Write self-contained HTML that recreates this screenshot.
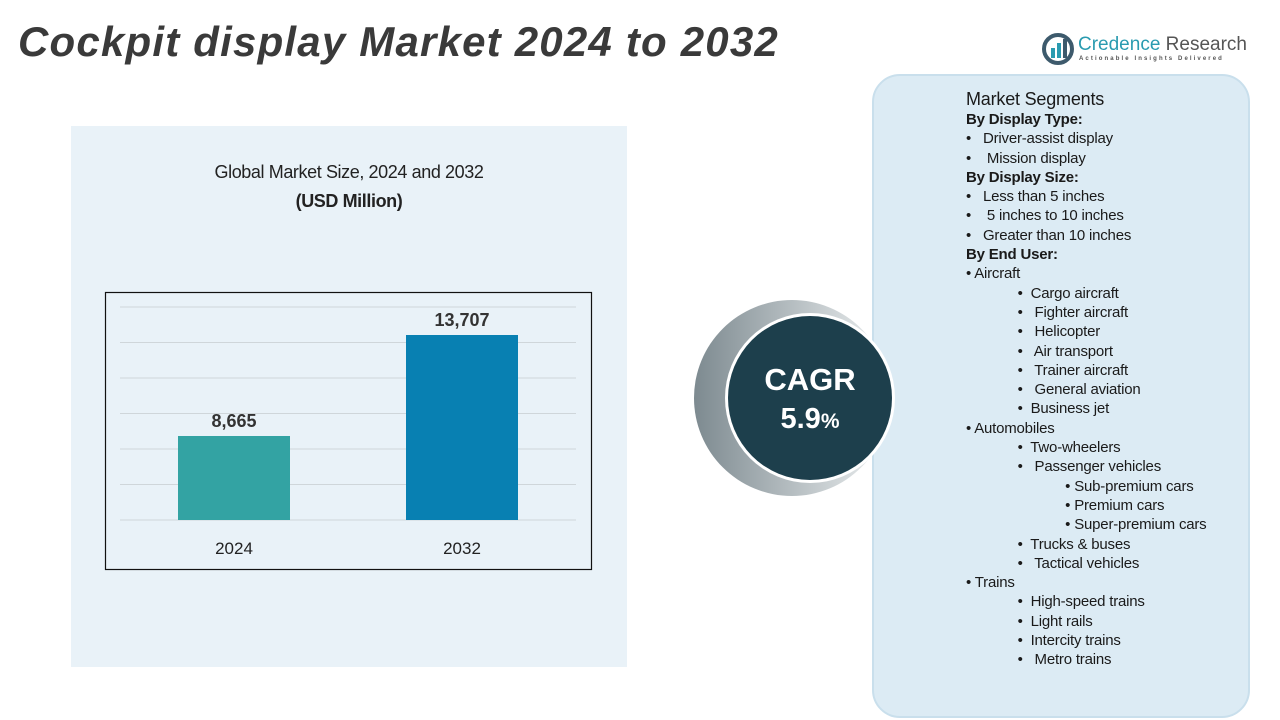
<!DOCTYPE html>
<html><head><meta charset="utf-8"><style>
body{margin:0;width:1280px;height:720px;background:#fff;position:relative;overflow:hidden;font-family:"Liberation Sans",sans-serif;}
.abs{position:absolute;}
#title{left:18px;top:18px;font-size:42px;font-weight:bold;font-style:italic;color:#3a3a3a;letter-spacing:1.2px;white-space:nowrap;}
#seg{left:872px;top:74px;width:378px;height:644px;border-radius:28px;background:#dcebf4;border:2px solid #c9dfec;box-sizing:border-box;}
#list{left:966px;top:88px;font-size:15px;color:#1a1a1a;line-height:19.3px;letter-spacing:-0.2px;}
#list div{white-space:pre;}
.b{font-weight:bold;}
</style></head><body>
<div class="abs" style="left:71px;top:126px;width:556px;height:541px;background:#e9f2f8;"></div>
<div id="title" class="abs">Cockpit display Market 2024 to 2032</div>
<div class="abs" style="left:1042px;top:32px;width:215px;height:34px;white-space:nowrap;">
<svg width="34" height="34" style="position:absolute;left:0;top:0"><circle cx="16" cy="17" r="14" fill="none" stroke="#3d5a6c" stroke-width="4"/><rect x="9" y="16" width="4" height="10" fill="#2a9bb0"/><rect x="15" y="11" width="4" height="15" fill="#2a9bb0"/><rect x="21" y="7" width="4" height="19" fill="#3d5a6c"/></svg>
<div style="position:absolute;left:36px;top:2px;font-size:19px;color:#2a9bb0;white-space:nowrap;">Credence <span style="color:#555">Research</span></div>
<div style="position:absolute;left:37px;top:24px;font-size:6px;letter-spacing:2.1px;color:#555;font-weight:bold;white-space:nowrap;">Actionable Insights Delivered</div>
</div>
<div class="abs" style="left:71px;width:556px;top:158px;text-align:center;font-size:18px;color:#222;line-height:29px;letter-spacing:-0.4px;">Global Market Size, 2024 and 2032<br><b>(USD Million)</b></div>
<svg class="abs" id="chart" style="left:0;top:0" width="640" height="720"></svg>
<div id="seg" class="abs"></div>
<svg class="abs" style="left:680px;top:280px" width="230" height="240">
<defs><linearGradient id="g" x1="0" x2="1"><stop offset="0" stop-color="#7d8a90"/><stop offset="1" stop-color="#eef1f2"/></linearGradient></defs>
<circle cx="112" cy="118" r="98" fill="url(#g)"/>
<circle cx="130" cy="118" r="85" fill="#fff"/>
<circle cx="130" cy="118" r="82" fill="#1d3f4c"/>
<text x="130" y="110" text-anchor="middle" font-size="31" font-weight="bold" fill="#fff" font-family="Liberation Sans">CAGR</text>
<text x="130" y="148" text-anchor="middle" font-size="29" font-weight="bold" fill="#fff" font-family="Liberation Sans">5.9<tspan font-size="21">%</tspan></text>
</svg>
<div id="list" class="abs">
<div style="font-size:18px;line-height:22px;">Market Segments</div>
<div class="b">By Display Type:</div>
<div>•   Driver-assist display</div>
<div>•    Mission display</div>
<div class="b">By Display Size:</div>
<div>•   Less than 5 inches</div>
<div>•    5 inches to 10 inches</div>
<div>•   Greater than 10 inches</div>
<div class="b">By End User:</div>
<div>• Aircraft</div>
<div>             •  Cargo aircraft</div>
<div>             •   Fighter aircraft</div>
<div>             •   Helicopter</div>
<div>             •   Air transport</div>
<div>             •   Trainer aircraft</div>
<div>             •   General aviation</div>
<div>             •  Business jet</div>
<div>• Automobiles</div>
<div>             •  Two-wheelers</div>
<div>             •   Passenger vehicles</div>
<div>                         • Sub-premium cars</div>
<div>                         • Premium cars</div>
<div>                         • Super-premium cars</div>
<div>             •  Trucks &amp; buses</div>
<div>             •   Tactical vehicles</div>
<div>• Trains</div>
<div>             •  High-speed trains</div>
<div>             •  Light rails</div>
<div>             •  Intercity trains</div>
<div>             •   Metro trains</div>
</div>
<script>
const categories=["2024","2032"];
const values=[8665,13707];
const labels=["8,665","13,707"];
const colors=["#33a3a3","#0880b2"];
const yMin=4471,yMax=15105,gridCount=6;
const svg=document.getElementById('chart');
const NS="http://www.w3.org/2000/svg";
const base=520,top0=307;
function y(v){return base-(v-yMin)/(yMax-yMin)*(base-top0);}
function mk(t,a){const e=document.createElementNS(NS,t);for(const k in a)e.setAttribute(k,a[k]);svg.appendChild(e);return e;}
const box=mk('rect',{x:105.5,y:292.5,width:486,height:277,fill:'none',stroke:'#111','stroke-width':1.2});


for(let i=0;i<=gridCount;i++){const gy=base-i*(base-top0)/gridCount;
const g=mk('line',{x1:120,x2:576,y1:gy,y2:gy,stroke:'#cfd6da','stroke-width':1});

}
const centers=[234,462],bw=112;
categories.forEach((c,i)=>{
const r=mk('rect',{x:centers[i]-bw/2,y:y(values[i]),width:bw,height:base-y(values[i]),fill:colors[i]});


const t=mk('text',{x:centers[i],y:y(values[i])-9,'text-anchor':'middle','font-size':18,'font-weight':'bold',fill:'#333','font-family':'Liberation Sans'});
t.textContent=labels[i];


const x=mk('text',{x:centers[i],y:554,'text-anchor':'middle','font-size':17,fill:'#222','font-family':'Liberation Sans'});
x.textContent=c;


});
</script>
</body></html>
